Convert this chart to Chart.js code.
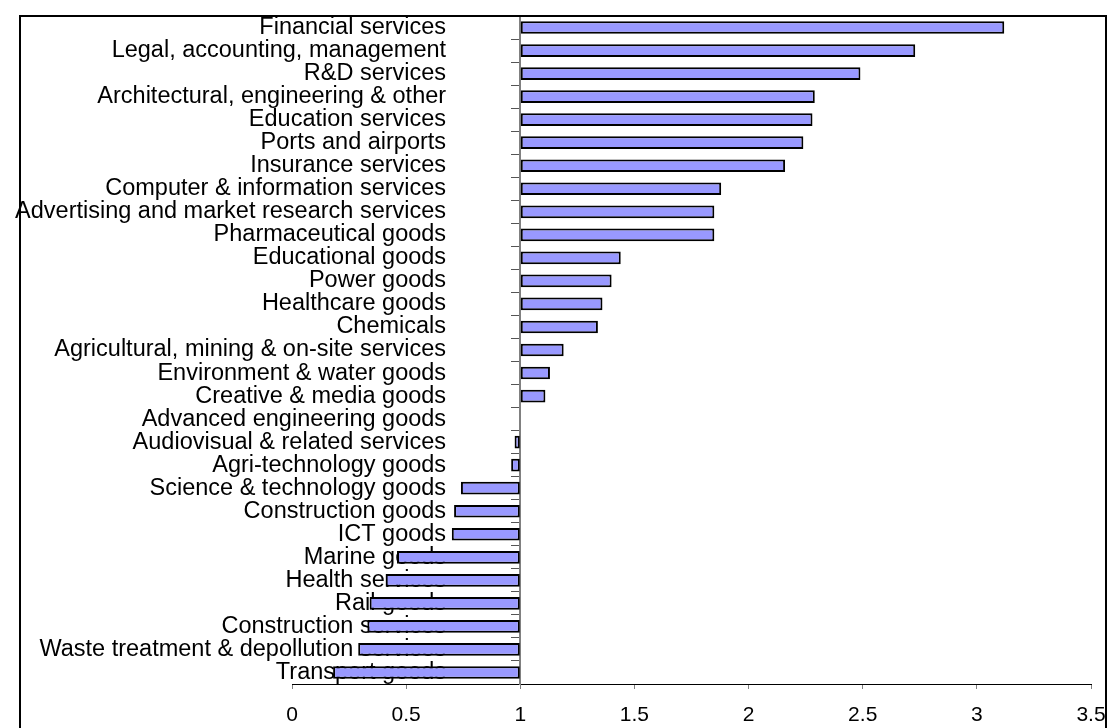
<!DOCTYPE html>
<html>
<head>
<meta charset="utf-8">
<script src="https://cdn.jsdelivr.net/npm/chart.js@4/dist/chart.umd.min.js"></script>
<style>
  body { margin: 0; background: #fff; }
</style>
</head>
<body>
<canvas id="bar-chart" width="1108" height="728"></canvas>
<script>
var categories = [
    'Financial services',
    'Legal, accounting, management',
    'R&D services',
    'Architectural, engineering & other',
    'Education services',
    'Ports and airports',
    'Insurance services',
    'Computer & information services',
    'Advertising and market research services',
    'Pharmaceutical goods',
    'Educational goods',
    'Power goods',
    'Healthcare goods',
    'Chemicals',
    'Agricultural, mining & on-site services',
    'Environment & water goods',
    'Creative & media goods',
    'Advanced engineering goods',
    'Audiovisual & related services',
    'Agri-technology goods',
    'Science & technology goods',
    'Construction goods',
    'ICT goods',
    'Marine goods',
    'Health services',
    'Rail goods',
    'Construction services',
    'Waste treatment & depollution services',
    'Transport goods'
];
var values = [
    3.12, 2.73, 2.49, 2.29, 2.28, 2.24, 2.16, 1.88, 1.85, 1.85,
    1.44, 1.40, 1.36, 1.34, 1.19, 1.13, 1.11, 1.00, 0.975, 0.96,
    0.74, 0.71, 0.70, 0.46, 0.41, 0.34, 0.33, 0.29, 0.18
];
var baseValue = 1;
var xMin = 0, xMax = 3.5, xStep = 0.5;
// where the category names end (right aligned), in axis units, like the excel label offset
var labelAnchor = 0.675;

// outer frame of the plot, drawn like the excel border
var framePlugin = {
    id: 'frame',
    afterDraw: function (chart) {
        var ctx = chart.ctx;
        ctx.save();
        ctx.strokeStyle = '#000';
        ctx.lineWidth = 2;
        ctx.strokeRect(20, 16, 1086, 760);
        ctx.restore();
    }
};

function noPadding(scale) {
    scale.paddingTop = 0;
    scale.paddingBottom = 0;
}

var ctx = document.getElementById('bar-chart').getContext('2d');
var chart = new Chart(ctx, {
    type: 'bar',
    data: {
        labels: categories,
        datasets: [{
            data: values,
            base: baseValue,
            backgroundColor: '#9999ff',
            borderColor: '#000',
            borderWidth: 2,
            borderSkipped: false,
            barPercentage: 0.55,
            categoryPercentage: 1
        }]
    },
    options: {
        indexAxis: 'y',
        responsive: false,
        animation: false,
        layout: {padding: {left: 292, right: 17, top: 16, bottom: 0}},
        plugins: {legend: {display: false}, tooltip: {enabled: false}},
        scales: {
            x: {
                position: 'bottom',
                min: xMin,
                max: xMax,
                afterFit: function (scale) {
                    scale.height = 44;
                    scale.paddingLeft = 0;
                    scale.paddingRight = 0;
                },
                ticks: {
                    stepSize: xStep, maxRotation: 0, padding: 14, color: '#000',
                    font: {family: 'Liberation Sans', size: 21},
                    callback: function (v) { return String(+v.toFixed(1)); }
                },
                grid: {drawOnChartArea: false, tickLength: 5, color: '#808080'},
                border: {color: '#000', width: 1}
            },
            y: {
                position: {x: baseValue},
                afterFit: noPadding,
                ticks: {display: false, autoSkip: false},
                grid: {drawOnChartArea: false, tickLength: 8, color: '#555', offset: true},
                border: {color: '#808080', width: 2}
            },
            yLabels: {
                type: 'category',
                axis: 'y',
                offset: true,
                position: {x: labelAnchor},
                afterFit: noPadding,
                ticks: {autoSkip: false, padding: 0, color: '#000',
                    font: {family: 'Liberation Sans', size: 23.5}},
                grid: {display: false},
                border: {display: false}
            }
        }
    },
    plugins: [framePlugin]
});
</script>
</body>
</html>
